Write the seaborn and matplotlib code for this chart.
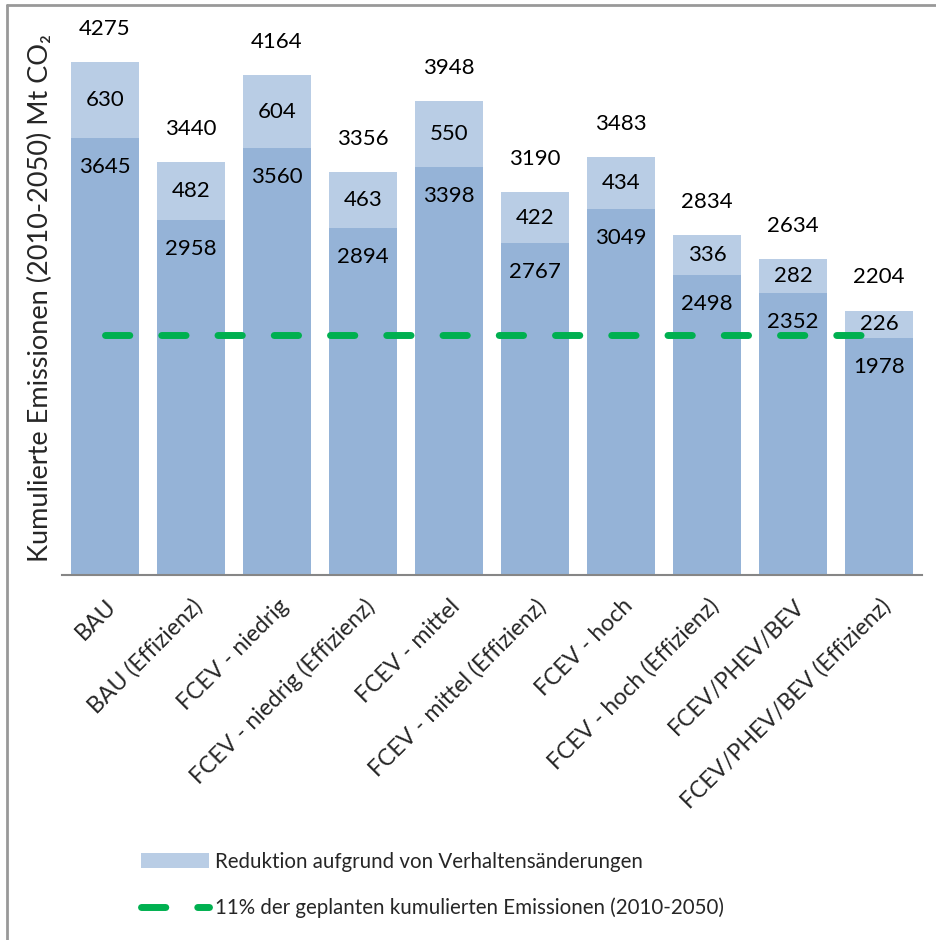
import matplotlib
matplotlib.use("Agg")
import matplotlib.pyplot as plt
import matplotlib.transforms as mtransforms
from matplotlib.patches import Patch
from matplotlib.lines import Line2D
import seaborn as sns
import pandas as pd

# Scenarios and cumulative emissions 2010-2050 (Mt CO2)
scenarios = [
    "BAU", "BAU (Effizienz)", "FCEV - niedrig", "FCEV - niedrig (Effizienz)",
    "FCEV - mittel", "FCEV - mittel (Effizienz)", "FCEV - hoch",
    "FCEV - hoch (Effizienz)", "FCEV/PHEV/BEV", "FCEV/PHEV/BEV (Effizienz)",
]
base_emissions = [3645, 2958, 3560, 2894, 3398, 2767, 3049, 2498, 2352, 1978]
behaviour_reduction = [630, 482, 604, 463, 550, 422, 434, 336, 282, 226]
totals = [4275, 3440, 4164, 3356, 3948, 3190, 3483, 2834, 2634, 2204]
target_level = 2000

legend_labels = [
    "Reduktion aufgrund von Verhaltensänderungen",
    "11% der geplanten kumulierten Emissionen (2010-2050)",
]
ylabel = "Kumulierte Emissionen (2010-2050) Mt CO\u2082"

DARK = "#95B3D7"
LIGHT = "#B9CDE5"
GREEN = "#00B050"

sns.set_theme(style="white")
plt.rcParams["font.family"] = ["Lato", "DejaVu Sans"]
plt.rcParams["lines.scale_dashes"] = False

W, H = 937, 940
fig = plt.figure(figsize=(W / 100, H / 100), dpi=100)
ax_left, ax_right, ax_bottom, ax_top = 62, 922, 575, 35
ax = fig.add_axes([ax_left / W, 1 - ax_bottom / H,
                   (ax_right - ax_left) / W, (ax_bottom - ax_top) / H])

df = pd.DataFrame({"scenario": scenarios, "base": base_emissions,
                   "reduction": behaviour_reduction, "total": totals})

sns.barplot(data=df, x="scenario", y="total", color=LIGHT, width=0.8,
            saturation=1, linewidth=0, ax=ax, order=scenarios)
sns.barplot(data=df, x="scenario", y="base", color=DARK, width=0.8,
            saturation=1, linewidth=0, ax=ax, order=scenarios)

ax.set_ylim(0, 4500)
ax.set_xlim(-0.5, len(scenarios) - 0.5)
ax.set_yticks([])
ax.set_ylabel("")
ax.set_xlabel("")
for side in ["top", "right", "left"]:
    ax.spines[side].set_visible(False)
ax.spines["bottom"].set_color("#868686")
ax.spines["bottom"].set_linewidth(1.5)

DASH = (17.5, 23)

# target line from first to last bar centre
ax.plot([0, len(scenarios) - 1], [target_level, target_level], color=GREEN,
        lw=5, dashes=DASH, solid_capstyle="round",
        dash_capstyle="round", zorder=5)

fs = 16
for i, (b, r, t) in enumerate(zip(base_emissions, behaviour_reduction, totals)):
    ax.annotate(f"{t}", (i, t), xytext=(0, 24), textcoords="offset points",
                ha="center", va="center", fontsize=fs, color="black",
                annotation_clip=False)
    ax.annotate(f"{r}", (i, b + r / 2), ha="center", va="center",
                fontsize=fs, color="black")
    ax.annotate(f"{b}", (i, b), xytext=(0, -21), textcoords="offset points",
                ha="center", va="center", fontsize=fs, color="black", zorder=6)

ax.set_xticks(range(len(scenarios)))
ax.set_xticklabels(scenarios, rotation=45, ha="right", va="center",
                   rotation_mode="anchor", fontsize=16.6)
ax.tick_params(axis="x", length=0, pad=20)
offset = mtransforms.ScaledTranslation(8 / 100, 0, fig.dpi_scale_trans)
for lbl in ax.get_xticklabels():
    lbl.set_transform(lbl.get_transform() + offset)

fig.text(40 / W, 1 - 298 / H, ylabel, rotation=90, ha="center", va="center",
         fontsize=19.5)

handles = [
    Patch(facecolor=LIGHT, edgecolor="none"),
    Line2D([0], [0], color=GREEN, lw=5, dashes=DASH,
           dash_capstyle="round"),
]
lfs = 14.8
fig.legend(handles, legend_labels, loc="center left",
           bbox_to_anchor=(133 / W, 1 - 885 / H), frameon=False,
           fontsize=lfs, handlelength=3.3, handleheight=0.75,
           handletextpad=0.3, labelspacing=1.25, borderaxespad=0)

# outer frame (top and left edges)
fig.add_artist(Line2D([7 / W, 1], [1 - 5 / H, 1 - 5 / H],
                      transform=fig.transFigure, color="#999999", lw=2))
fig.add_artist(Line2D([7 / W, 7 / W], [0, 1 - 5 / H],
                      transform=fig.transFigure, color="#999999", lw=2))

fig.savefig("out.png", dpi=100, facecolor="white")
